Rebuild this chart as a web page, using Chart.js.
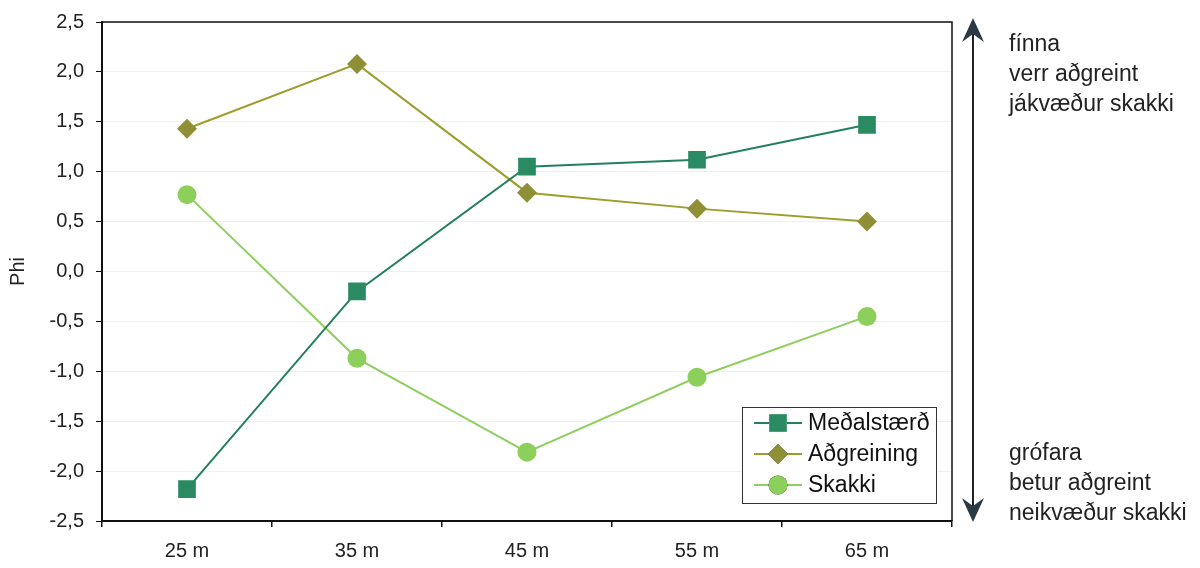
<!DOCTYPE html>
<html lang="is">
<head>
    <meta charset="UTF-8">
    <title>Phi</title>
    <style>
        * { margin: 0; padding: 0; box-sizing: border-box; }
        body { background: #fff; font-family: Arial, "Liberation Sans", sans-serif; }
        #wrap { position: relative; width: 1200px; height: 568px; }
        .note {
            position: absolute;
            left: 1009px;
            font-size: 23px;
            line-height: 30px;
            color: #222;
            white-space: nowrap;
        }
    </style>
</head>
<body>
<div id="wrap">
    <canvas id="phiChart" width="1200" height="568"></canvas>
    <div class="note" style="top:28px">fínna<br>verr aðgreint<br>jákvæður skakki</div>
    <div class="note" style="top:437px">grófara<br>betur aðgreint<br>neikvæður skakki</div>
</div>

<script src="https://cdn.jsdelivr.net/npm/chart.js"></script>
<script>
    // Data
    const categories = ["25 m", "35 m", "45 m", "55 m", "65 m"];
    const medalstaerd = [-2.18, -0.20, 1.05, 1.12, 1.47];
    const adgreining = [1.43, 2.08, 0.79, 0.63, 0.50];
    const skakki = [0.77, -0.87, -1.81, -1.06, -0.45];

    // Frame on the top and right sides + legend box + arrow
    const extras = {
        id: "extras",
        afterDraw(chart) {
            const ctx = chart.ctx;
            const a = chart.chartArea;
            ctx.save();
            ctx.strokeStyle = "#111";
            ctx.lineWidth = 1.5;
            ctx.beginPath();
            ctx.moveTo(a.left, a.top);
            ctx.lineTo(a.right, a.top);
            ctx.lineTo(a.right, a.bottom);
            ctx.stroke();

            // legend
            const lx = 742, ly = 407, lw = 194, lh = 96;
            ctx.fillStyle = "#fff";
            ctx.fillRect(lx, ly, lw, lh);
            ctx.strokeStyle = "#333";
            ctx.lineWidth = 1;
            ctx.strokeRect(lx + 0.5, ly + 0.5, lw, lh);
            ctx.font = "23px Arial, 'Liberation Sans', sans-serif";
            ctx.textBaseline = "middle";
            chart.data.datasets.forEach((ds, i) => {
                const y = ly + 16 + i * 31;
                ctx.strokeStyle = ds.borderColor;
                ctx.lineWidth = 2;
                ctx.beginPath();
                ctx.moveTo(lx + 12, y);
                ctx.lineTo(lx + 60, y);
                ctx.stroke();
                Chart.helpers.drawPoint(ctx, {
                    pointStyle: ds.pointStyle,
                    radius: ds.pointRadius,
                    rotation: 0,
                    borderWidth: 0
                }, lx + 36, y);
                ctx.fillStyle = ds.pointBackgroundColor;
                ctx.fill();
                ctx.fillStyle = "#111";
                ctx.fillText(ds.label, lx + 66, y + 1);
            });

            // arrow
            const ax = 973;
            ctx.strokeStyle = "#222";
            ctx.fillStyle = "#2b3a44";
            ctx.lineWidth = 2;
            ctx.beginPath();
            ctx.moveTo(ax, 30);
            ctx.lineTo(ax, 510);
            ctx.stroke();
            ctx.beginPath();
            ctx.moveTo(ax, 18);
            ctx.lineTo(ax + 11, 42);
            ctx.lineTo(ax, 34);
            ctx.lineTo(ax - 11, 42);
            ctx.closePath();
            ctx.fill();
            ctx.beginPath();
            ctx.moveTo(ax, 522);
            ctx.lineTo(ax + 11, 498);
            ctx.lineTo(ax, 506);
            ctx.lineTo(ax - 11, 498);
            ctx.closePath();
            ctx.fill();
            ctx.restore();
        }
    };

    Chart.defaults.font.family = "Arial, 'Liberation Sans', sans-serif";
    Chart.defaults.color = "#222";

    new Chart(document.getElementById("phiChart"), {
        type: "line",
        data: {
            labels: categories,
            datasets: [
                {
                    label: "Meðalstærð",
                    data: medalstaerd,
                    borderColor: "#23805c",
                    pointBackgroundColor: "#2a8a62",
                    pointBorderWidth: 0,
                    pointStyle: "rect",
                    pointRadius: 12.5,
                    borderWidth: 2
                },
                {
                    label: "Aðgreining",
                    data: adgreining,
                    borderColor: "#9d9d2c",
                    pointBackgroundColor: "#8f9036",
                    pointBorderWidth: 0,
                    pointStyle: "rectRot",
                    pointRadius: 10,
                    borderWidth: 2
                },
                {
                    label: "Skakki",
                    data: skakki,
                    borderColor: "#8fce60",
                    pointBackgroundColor: "#8ccf5a",
                    pointBorderWidth: 0,
                    pointStyle: "circle",
                    pointRadius: 9.5,
                    borderWidth: 2
                }
            ]
        },
        options: {
            responsive: false,
            animation: false,
            layout: { padding: { top: 22, right: 248, left: 0, bottom: 0 } },
            plugins: {
                legend: { display: false },
                tooltip: { enabled: false }
            },
            scales: {
                x: {
                    offset: true,
                    afterFit(scale) { scale.height = 47; },
                    grid: {
                        offset: true,
                        drawOnChartArea: false,
                        tickLength: 6,
                        tickColor: "#111",
                        lineWidth: 1.5
                    },
                    border: { color: "#111", width: 2 },
                    ticks: { font: { size: 20 }, padding: 12, color: "#222" }
                },
                y: {
                    min: -2.5,
                    max: 2.5,
                    afterFit(scale) { scale.width = 102; },
                    ticks: {
                        stepSize: 0.5,
                        font: { size: 20, lineHeight: 1 },
                        padding: 12,
                        color: "#222",
                        callback: v => v.toFixed(1).replace(".", ",")
                    },
                    grid: {
                        color: "#efefef",
                        tickColor: "#111",
                        tickLength: 6
                    },
                    border: { color: "#111", width: 2 },
                    title: {
                        display: true,
                        text: "Phi",
                        font: { size: 20 },
                        color: "#222",
                        padding: { top: 6, bottom: 0 }
                    }
                }
            }
        },
        plugins: [extras]
    });
</script>
</body>
</html>
